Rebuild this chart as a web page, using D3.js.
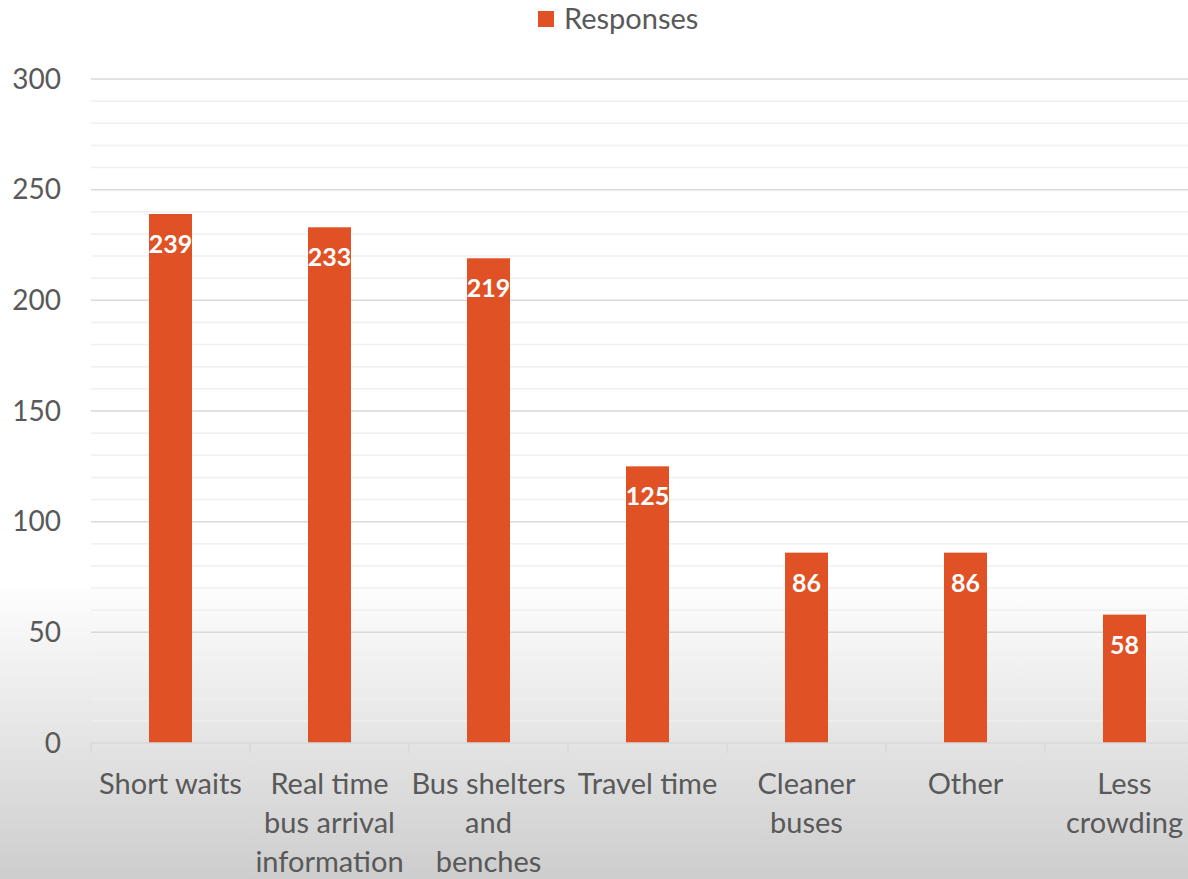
<!DOCTYPE html>
<html><head><meta charset="utf-8">
<script src="https://cdn.jsdelivr.net/npm/d3@7"></script>
<style>html,body{margin:0;padding:0;overflow:hidden;}svg{display:block;}</style>
</head><body>
<svg id="c" width="1188" height="879"></svg>
<script>
const categories = ["Short waits","Real time bus arrival information","Bus shelters and benches","Travel time","Cleaner buses","Other","Less crowding"];
const tickLines = [["Short waits"],["Real time","bus arrival","information"],["Bus shelters","and","benches"],["Travel time"],["Cleaner","buses"],["Other"],["Less","crowding"]];
const responses = [239,233,219,125,86,86,58];
const yTicks = [0,50,100,150,200,250,300];
const seriesName = "Responses";

const W = 1188, H = 879;
const svg = d3.select("#c");
const font = "Lato, 'Open Sans', sans-serif";
const barColor = "#e05226";

const defs = svg.append("defs");
const g = defs.append("linearGradient").attr("id","bg").attr("x1",0).attr("y1",0).attr("x2",0).attr("y2",1);
g.append("stop").attr("offset","0.66").attr("stop-color","#ffffff");
g.append("stop").attr("offset","1").attr("stop-color","#cdcdcd");
svg.append("rect").attr("width",W).attr("height",H).attr("fill","url(#bg)");

const x = d3.scaleBand().domain(categories).range([91,1204]).paddingInner(0).paddingOuter(0);
const y = d3.scaleLinear().domain([0,300]).range([743,79]);

// minor gridlines
const minor = d3.range(10,300,10).filter(v=>v%50!==0);
svg.append("g").selectAll("line").data(minor).join("line")
  .attr("x1",91).attr("x2",1204).attr("y1",d=>y(d)).attr("y2",d=>y(d))
  .attr("stroke","#f0f0f0").attr("stroke-width",1.5);
svg.append("g").selectAll("line").data(yTicks.filter(v=>v>0)).join("line")
  .attr("x1",91).attr("x2",1204).attr("y1",d=>y(d)).attr("y2",d=>y(d))
  .attr("stroke","#d9d9d9").attr("stroke-width",1.5);

// y labels
svg.append("g").selectAll("text").data(yTicks).join("text")
  .attr("x",61).attr("y",d=>y(d)).attr("dy","0.35em").attr("text-anchor","end")
  .attr("font-family",font).attr("font-size",28).attr("fill","#595959").text(d=>d);

// bars
const bw = 43;
svg.append("g").selectAll("rect").data(responses).join("rect")
  .attr("x",(d,i)=>x(categories[i])+x.bandwidth()/2-bw/2).attr("width",bw)
  .attr("y",d=>y(d)).attr("height",d=>y(0)-y(d)).attr("fill",barColor);

// data labels
svg.append("g").selectAll("text").data(responses).join("text")
  .attr("x",(d,i)=>x(categories[i])+x.bandwidth()/2).attr("y",d=>y(d)+39)
  .attr("text-anchor","middle").attr("font-family",font).attr("font-weight","bold")
  .attr("font-size",25).attr("fill","#ffffff").text(d=>d);

// x axis line and ticks
svg.append("line").attr("x1",91).attr("x2",1204).attr("y1",743).attr("y2",743).attr("stroke","#d9d9d9").attr("stroke-width",1.5);
const bounds = categories.map(c=>x(c)).concat([x(categories[categories.length-1])+x.bandwidth()]);
svg.append("g").selectAll("line").data(bounds).join("line")
  .attr("x1",d=>d).attr("x2",d=>d).attr("y1",743).attr("y2",753).attr("stroke","#d9d9d9").attr("stroke-width",1.5);

// x labels
const xl = svg.append("g").selectAll("text").data(tickLines).join("text")
  .attr("x",(d,i)=>x(categories[i])+x.bandwidth()/2).attr("y",784)
  .attr("text-anchor","middle").attr("font-family",font).attr("font-size",29).attr("fill","#595959");
xl.each(function(lines){
  const t = d3.select(this);
  const cx = t.attr("x");
  lines.forEach((l,j)=>t.append("tspan").attr("x",cx).attr("dy",j===0?"0.35em":39).text(l));
});

// legend
svg.append("rect").attr("x",538).attr("y",11).attr("width",16).attr("height",16).attr("fill",barColor);
svg.append("text").attr("x",564).attr("y",19).attr("dy","0.35em").attr("font-family",font).attr("font-size",29).attr("fill","#595959").text(seriesName);
</script>
</body></html>
